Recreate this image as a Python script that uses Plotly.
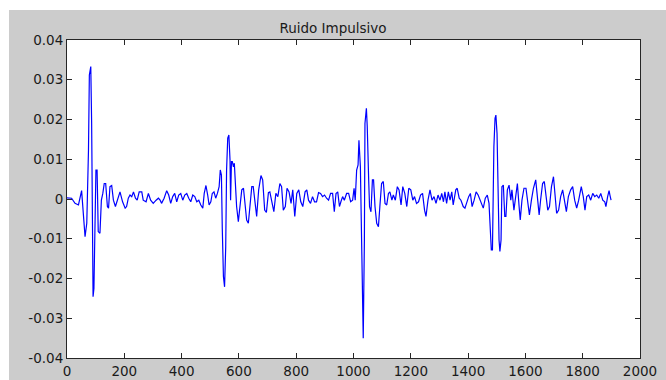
import numpy as np
import plotly.graph_objects as go

# Impulsive noise record: sample index and amplitude (amplitude written in units of 1e-3)
samples = [
    0, 16, 28, 40, 51, 59, 63, 69, 75, 78, 83, 86, 88, 91, 94, 98, 101, 105, 109, 115,
    120, 125, 130, 135, 141, 145, 150, 156, 162, 169, 176, 185, 194, 203, 208, 214, 220, 226, 232, 239,
    245, 252, 261, 266, 276, 284, 292, 301, 311, 319, 325, 330, 339, 348, 355, 362, 369, 376, 383, 390,
    397, 404, 411, 418, 425, 432, 439, 446, 453, 460, 467, 474, 479, 485, 491, 496, 502, 507, 513, 519,
    525, 531, 535, 539, 542, 546, 550, 554, 557, 561, 565, 569, 571, 574, 577, 581, 584, 592, 598, 604,
    610, 616, 621, 627, 633, 639, 645, 650, 656, 662,
    669, 677, 683, 690, 696, 703, 708, 715, 722, 729, 736, 743, 749, 755, 762, 768, 775, 782, 788, 795,
    802, 809, 816, 823, 831, 837, 843, 850, 857, 864, 871, 878, 885, 892, 899, 906, 913, 920, 927, 933,
    939, 945, 951, 956, 962, 968, 976, 983, 990, 997, 1002, 1006, 1011, 1016, 1019, 1024, 1027, 1031, 1034, 1038,
    1040, 1045, 1048, 1053, 1056, 1061, 1066, 1070, 1075, 1081, 1087, 1092, 1098, 1104, 1110, 1116, 1122, 1127, 1134, 1139,
    1146, 1153, 1159, 1166, 1172, 1179, 1186, 1193, 1200, 1207, 1213, 1220, 1227, 1234, 1241, 1248, 1253, 1260, 1267, 1274,
    1281, 1288, 1295,
    1302, 1308, 1314, 1319, 1325, 1331, 1337, 1343, 1348, 1357, 1362, 1369, 1375, 1383, 1389, 1395, 1402, 1408, 1414, 1421,
    1428, 1435, 1442, 1449, 1453, 1460, 1467, 1473, 1476, 1481, 1485, 1487, 1490, 1494, 1497, 1501, 1504, 1508, 1511, 1515,
    1518, 1523, 1528, 1532, 1537, 1543, 1549, 1553, 1560, 1566, 1572, 1578, 1582, 1588, 1595, 1602, 1609, 1614, 1621, 1628,
    1636, 1642, 1648, 1653, 1660, 1666, 1672, 1678, 1684, 1691, 1698, 1703, 1709, 1716, 1723, 1730, 1737, 1743, 1750, 1758,
    1765, 1772, 1779, 1786, 1795, 1802, 1808, 1814, 1821, 1828, 1835, 1842, 1849, 1856, 1863, 1870, 1877, 1881, 1887, 1892,
    1895, 1899,
]

amplitude_milli = [
    0.3, 0.2, -1.1, -1.5, 2.1, -5.3, -9.5, -6.1, 12.3, 31.2, 33.3, 19.0, -17.4, -24.6, -22.5, -2.8, 7.3, 7.3, -8.2, -8.6,
    -0.3, 1.4, 3.9, 3.9, -1.9, -2.3, 3.1, 3.4, -0.3, -1.9, -0.3, 1.8, -0.7, -2.3, -1.9, 0.2, 1.0, 0.6, 1.8, 0.2,
    -0.3, 1.8, 1.8, -0.3, -0.7, 1.4, -0.3, -1.1, -0.3, 0.2, -0.3, -1.1, 0.2, 2.1, 1.0, -1.1, 0.6, 1.4, -0.7, 1.0,
    1.4, -0.3, 1.0, 1.4, 0.2, -0.7, 1.0, 0.6, -0.7, -0.3, -1.5, -2.3, 1.4, 3.4, 1.0, -1.5, -0.7, 1.4, 1.8, 0.2,
    1.4, 3.1, 7.3, 6.0, -7.4, -19.5, -22.1, -12.0, 7.3, 15.3, 16.1, 9.8, -0.3, 9.4, 9.4, 8.1, 9.0, -1.9, -5.7, -1.9,
    2.3, 2.7, -0.3, -5.3, -6.1, -0.3, 3.1, 3.1, -1.1, -4.4,
    2.3, 5.9, 4.8, -2.8, -3.4, 1.6, 1.8, -0.7, -3.2, 1.4, 0.6, 3.9, 3.1, -2.8, -1.9, 2.7, 1.8, -1.1, 2.3, -4.4,
    1.4, 2.3, -0.7, -1.9, 1.8, 2.3, -0.3, -1.1, 0.6, -0.7, -0.7, 1.6, 1.4, 0.6, 1.0, 0.2, -0.3, 1.4, 1.4, -3.2,
    1.4, 1.8, -1.9, -0.7, 0.6, -0.3, 1.4, 1.4, -0.7, -0.3, 2.7, -0.3, 7.3, 8.6, 14.8, 8.1, -8.6, -22.1, -35.0, -10.3,
    19.0, 22.8, 18.2, 4.8, -1.9, -3.2, 4.8, 4.8, -1.9, -6.1, -7.0, -1.9, 3.9, 4.4, -1.1, -1.5, 1.4, 1.8, -0.3, 1.0,
    -0.3, 3.1, 2.3, -1.5, 3.1, 1.4, -1.9, 2.7, 2.3, -0.3, 0.6, -1.1, -0.7, 1.0, 1.4, -2.8, -4.4, -0.3, 2.3, -0.3,
    0.6, -1.1, 1.0,
    -0.3, 1.4, -0.7, 1.8, -1.1, 1.8, -0.3, 1.8, -1.5, 2.3, 2.7, 0.2, -0.3, -1.9, -2.3, -0.7, 0.6, 1.4, -1.9, -0.3,
    1.8, 1.0, -0.3, -1.5, -2.3, 0.2, 1.0, -1.1, -5.3, -12.8, -12.8, 1.4, 13.2, 20.3, 21.1, 16.5, 3.9, -10.3, -13.2, -10.3,
    3.1, 3.5, -4.4, -4.4, 2.3, 3.5, -0.3, 2.3, -2.8, 1.4, 3.9, -1.9, -5.3, -0.3, 2.7, 2.7, -2.3, -4.0, -0.3, 2.7,
    4.8, -0.3, -4.0, -0.3, 3.9, 4.4, 0.6, -2.8, -1.9, 3.1, 5.6, 1.4, -3.6, -2.8, 0.6, 2.3, -0.7, -3.2, 0.6, 2.3,
    3.1, -0.3, -2.3, -0.3, 3.1, 0.6, -2.8, 0.6, 1.0, -0.3, 1.4, 0.6, 1.0, 0.2, 1.4, -0.3, -0.7, -1.9, 0.6, 2.1,
    1.0, -0.3,
]

amplitude = np.array(amplitude_milli) * 1e-3

x_ticks = [0, 200, 400, 600, 800, 1000, 1200, 1400, 1600, 1800, 2000]
y_ticks = [-0.04, -0.03, -0.02, -0.01, 0, 0.01, 0.02, 0.03, 0.04]
y_tick_labels = ["-0.04", "-0.03", "-0.02", "-0.01", "0", "0.01", "0.02", "0.03", "0.04"]

title_text = "Ruido Impulsivo"

fig = go.Figure()
fig.add_trace(go.Scatter(
    x=samples,
    y=amplitude,
    mode="lines",
    line=dict(color="#0000ff", width=1.2),
    hoverinfo="skip",
))

font_family = "DejaVu Sans, Liberation Sans, Arial, sans-serif"
axis_common = dict(
    showgrid=False,
    zeroline=False,
    showline=True,
    linecolor="#262626",
    linewidth=1,
    mirror="ticks",
    ticks="inside",
    ticklen=5,
    tickwidth=1,
    tickcolor="#262626",
    automargin=False,
    tickfont=dict(family=font_family, size=13.5, color="#1a1a1a"),
)

fig.update_layout(
    width=666,
    height=380,
    margin=dict(l=67, r=26, t=40, b=22),
    paper_bgcolor="#cccccc",
    plot_bgcolor="#ffffff",
    showlegend=False,
    title=dict(
        text=title_text,
        x=0.5,
        xanchor="center",
        y=1 - 28 / 380,
        yanchor="middle",
        font=dict(family=font_family, size=13.5, color="#1a1a1a"),
    ),
    xaxis=dict(range=[0, 2000], tickvals=x_ticks, ticklabelstandoff=1, **axis_common),
    yaxis=dict(range=[-0.04, 0.04], tickvals=y_ticks, ticktext=y_tick_labels, **axis_common),
    shapes=[
        # white strips along the top and left edges of the canvas
        dict(type="rect", xref="paper", yref="paper", x0=-0.2, x1=1.1,
             y0=(358 - 10) / 318, y1=1.2, fillcolor="#ffffff", line_width=0, layer="below"),
        dict(type="rect", xref="paper", yref="paper", x0=-0.2, x1=(9 - 67) / 573,
             y0=-0.2, y1=1.2, fillcolor="#ffffff", line_width=0, layer="below"),
    ],
)

fig.write_html("out.html")
